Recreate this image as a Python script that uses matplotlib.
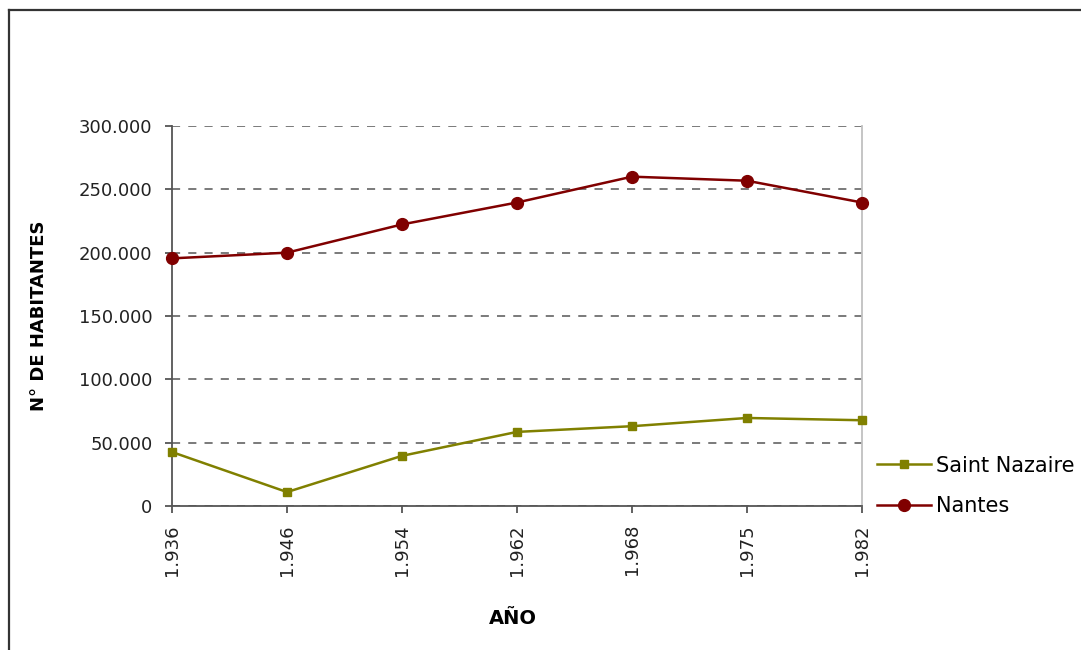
import numpy as np
import matplotlib.pyplot as plt
from matplotlib.lines import Line2D
from matplotlib.ticker import FuncFormatter, MultipleLocator

# datos
anios = ['1.936', '1.946', '1.954', '1.962', '1.968', '1.975', '1.982']
saint_nazaire = [42600, 11000, 39600, 58500, 63000, 69500, 67700]
nantes = [195500, 200000, 222300, 239600, 260000, 256800, 239600]

verde = '#808000'
rojo = '#800000'

fig = plt.figure(figsize=(10.81, 6.5), dpi=100)
ax = fig.add_axes([172 / 1081, 1 - 506 / 650, 690 / 1081, 380 / 650])

x = np.arange(len(anios))
l1, = ax.plot(x, saint_nazaire, color=verde, lw=1.8, marker='s', ms=5.5,
              label='Saint Nazaire', clip_on=False, zorder=3)
l2, = ax.plot(x, nantes, color=rojo, lw=1.8, marker='o', ms=8.5,
              label='Nantes', clip_on=False, zorder=4)

ax.set_xlim(0, len(anios) - 1)
ax.set_ylim(0, 300000)
ax.yaxis.set_major_locator(MultipleLocator(50000))
ax.yaxis.set_major_formatter(FuncFormatter(lambda v, p: f'{v:,.0f}'.replace(',', '.')))
ax.set_xticks(x)
ax.set_xticklabels(anios, rotation=90)

ax.grid(axis='y', color='#707070', lw=1.3, linestyle=(0, (4.5, 4.5)))
ax.set_axisbelow(True)
ax.spines['top'].set_visible(False)
ax.spines['right'].set_color('#c0c0c0')
ax.spines['right'].set_linewidth(1.3)
for s in ('left', 'bottom'):
    ax.spines[s].set_color('#555555')
    ax.spines[s].set_linewidth(1.3)

ax.tick_params(axis='y', length=5, width=1.3, color='#555555', pad=9,
               labelsize=13, labelcolor='#222222')
ax.tick_params(axis='x', length=5, width=1.3, color='#555555', pad=8,
               labelsize=13, labelcolor='#222222')

ax.set_ylabel('N° DE HABITANTES', fontsize=13, fontweight='bold')
ax.yaxis.set_label_coords(-0.18, 0.5)
ax.set_xlabel('AÑO', fontsize=14, fontweight='bold', va='center')
ax.xaxis.set_label_coords(0.494, -0.295)

fig.legend(handles=[l1, l2], loc='center left',
           bbox_to_anchor=(877 / 1081, 1 - 486 / 650), frameon=False,
           fontsize=15, handlelength=2.6, handletextpad=0.25,
           labelspacing=1.0, borderpad=0, borderaxespad=0)

# marco exterior
fig.add_artist(Line2D([8.5 / 1081, 1.0], [1 - 10 / 650, 1 - 10 / 650],
                      transform=fig.transFigure, color='#333333', lw=1.6))
fig.add_artist(Line2D([8.5 / 1081, 8.5 / 1081], [0, 1 - 10 / 650],
                      transform=fig.transFigure, color='#333333', lw=1.6))

fig.savefig('out.png', dpi=100)
